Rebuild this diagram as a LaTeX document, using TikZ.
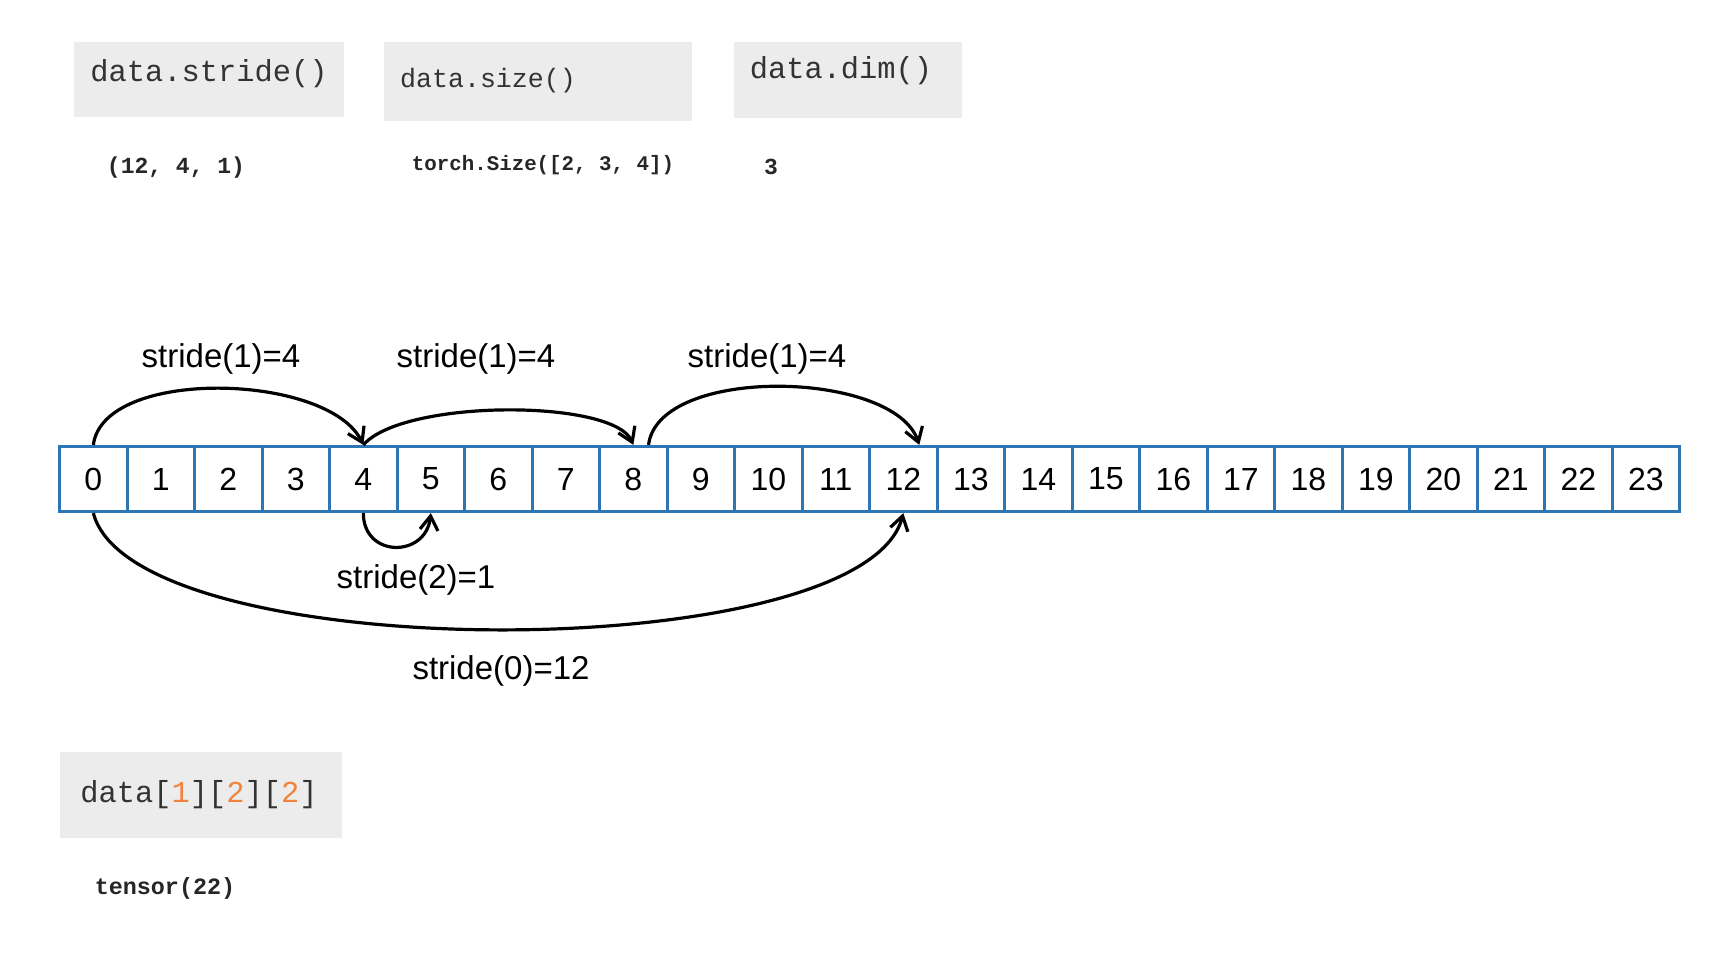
\documentclass[tikz,border=0pt]{standalone}
\usepackage{fontspec}
\setmainfont{Liberation Sans}
\setmonofont{Liberation Mono}
\usetikzlibrary{arrows.meta}
\definecolor{cellblue}{RGB}{46,117,182}
\definecolor{codegray}{RGB}{236,236,236}
\definecolor{codetext}{RGB}{51,51,51}
\definecolor{idxorange}{RGB}{242,130,60}

\begin{document}
\begin{tikzpicture}[x=0.5pt,y=0.5pt,
    cell/.style={draw=cellblue,line width=1.6pt,minimum width=33.75pt,minimum height=32.5pt,inner sep=0pt,font=\fontsize{16}{19}\selectfont},
    jump/.style={line width=1.6pt,-{Straight Barb[length=7pt,width=9pt]}},
    steplabel/.style={font=\fontsize{16.5}{20}\selectfont},
    codebox/.style={fill=codegray,inner sep=0pt},
    code/.style={text=codetext,font=\ttfamily\fontsize{#1}{18}\selectfont},
    result/.style={text=black!85,font=\ttfamily\bfseries\fontsize{#1}{14}\selectfont}]
  \useasboundingbox (0,0) rectangle (1730,960);

  % calls and their outputs
  \node[codebox,minimum width=135pt,minimum height=37.5pt] (strideBox) at (209,880.5) {};
  \node[codebox,minimum width=154pt,minimum height=39.5pt] (sizeBox) at (538,878.5) {};
  \node[codebox,minimum width=114pt,minimum height=38pt] (dimBox) at (848,880) {};
  \node[codebox,minimum width=141pt,minimum height=43pt] (indexBox) at (201,165) {};
  \node[code=15.2] (strideCall) at (209,886) {data.stride()};
  \node[code=13.3] (sizeCall) at (488,879) {data.size()};
  \node[code=15.2] (dimCall) at (841,889) {data.dim()};
  \node[code=15.2] (indexCall) at (199,165) {data[\textcolor{idxorange}{1}][\textcolor{idxorange}{2}][\textcolor{idxorange}{2}]};
  \node[result=11.5] (strideOut) at (176,792) {(12, 4, 1)};
  \node[result=10.4] (sizeOut) at (543,795) {torch.Size([2, 3, 4])};
  \node[result=11.5] (dimOut) at (771,793) {3};
  \node[result=11.7] (indexOut) at (165,72) {tensor(22)};

  % the storage
  \foreach \i in {0,...,23}
    \node[cell] (c\i) at ({93.35+67.5*\i},481) {\i};

  % jumps
  \draw[jump] (c0.north) .. controls +(10,78) and +(-35,72) .. (c4.north);
  \draw[jump] (c4.north) .. controls +(40,46) and +(-20,46) .. (c8.north);
  \draw[jump] (c8.66) .. controls +(10,80) and +(-25,75) .. (c12.65);
  \draw[jump] (c4.south) .. controls +(0,-45) and +(-5,-45) .. (c5.south);
  \draw[jump] (c0.south) .. controls +(40,-155) and +(-40,-155) .. (c12.south);

  \node[steplabel] (strideOneA) at (221,601) {stride(1)=4};
  \node[steplabel] (strideOneB) at (476,601) {stride(1)=4};
  \node[steplabel] (strideOneC) at (767,601) {stride(1)=4};
  \node[steplabel] (strideTwo) at (416,380) {stride(2)=1};
  \node[steplabel] (strideZero) at (501,289) {stride(0)=12};
\end{tikzpicture}
\end{document}
